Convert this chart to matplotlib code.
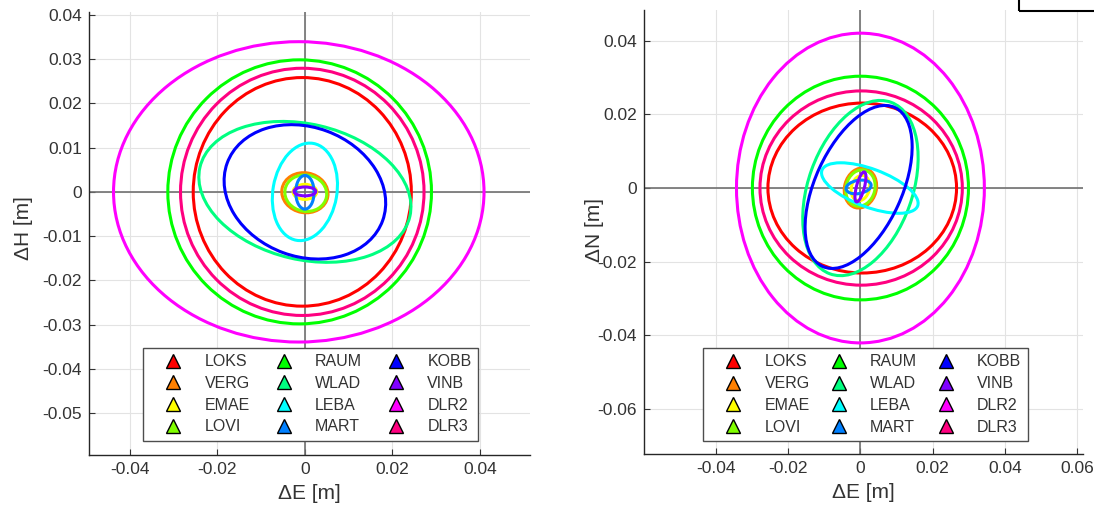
import matplotlib
matplotlib.use("Agg")
import matplotlib.pyplot as plt
from matplotlib.patches import Ellipse, Rectangle
from matplotlib.lines import Line2D

plt.rcParams['font.family'] = ['Liberation Sans', 'DejaVu Sans']
plt.rcParams['axes.unicode_minus'] = False

stations = ['LOKS', 'VERG', 'EMAE', 'LOVI', 'RAUM', 'WLAD',
            'LEBA', 'MART', 'KOBB', 'VINB', 'DLR2', 'DLR3']
colors = ['#ff0000', '#ff8000', '#ffff00', '#80ff00', '#00ff00', '#00ff80',
          '#00ffff', '#0080ff', '#0000ff', '#8000ff', '#ff00ff', '#ff0080']

# left panel: dE / dH error ellipses (center, semi-axes, rotation in deg)
eh_cx = [-0.0006, 0.0, 0.0, 0.0002, -0.0012, 0.0, 0.0, 0.0, 0.0, 0.0, -0.0014, -0.0006]
eh_cy = [0.0, -0.0002, 0.0, -0.0003, 0.0, 0.0, 0.0, -0.0001, 0.0, 0.0001, 0.0, 0.0]
eh_a = [0.0249, 0.0053, 0.0027, 0.0048, 0.0301, 0.0246, 0.0111, 0.0021, 0.0189, 0.0025, 0.0423, 0.0278]
eh_b = [0.0258, 0.0045, 0.0017, 0.0041, 0.0298, 0.0153, 0.0073, 0.0038, 0.0146, 0.0010, 0.0339, 0.0279]
eh_ang = [0, -10, 0, -10, 0, -13, 80, 0, -20, 0, 0, 0]

# right panel: dE / dN error ellipses
en_cx = [0.0005, 0.0, 0.0, 0.0, 0.0, 0.0, 0.0026, -0.0005, -0.0005, 0.0, 0.0, 0.0002]
en_cy = [0.0, 0.0, 0.0, 0.0, 0.0, 0.0, 0.0, 0.0003, 0.0003, 0.0003, 0.0, 0.0]
en_a = [0.0261, 0.0055, 0.0035, 0.0050, 0.0299, 0.0248, 0.0141, 0.0035, 0.0238, 0.0042, 0.0343, 0.0280]
en_b = [0.0231, 0.0044, 0.0025, 0.0040, 0.0304, 0.0144, 0.0052, 0.0018, 0.0120, 0.0011, 0.0421, 0.0264]
en_ang = [0, 75, 75, 75, 0, 70, -20, 10, 65, 75, 0, 0]

left_xticks = [-0.04, -0.02, 0, 0.02, 0.04]
left_xlabels = ['-0.04', '-0.02', '0', '0.02', '0.04']
left_yticks = [-0.05, -0.04, -0.03, -0.02, -0.01, 0, 0.01, 0.02, 0.03, 0.04]
left_ylabels = ['-0.05', '-0.04', '-0.03', '-0.02', '-0.01', '0', '0.01', '0.02', '0.03', '0.04']
right_xticks = [-0.04, -0.02, 0, 0.02, 0.04, 0.06]
right_xlabels = ['-0.04', '-0.02', '0', '0.02', '0.04', '0.06']
right_yticks = [-0.06, -0.04, -0.02, 0, 0.02, 0.04]
right_ylabels = ['-0.06', '-0.04', '-0.02', '0', '0.02', '0.04']

txt = '#333333'
W, H = 1094, 514
fig = plt.figure(figsize=(W / 100, H / 100), dpi=100)


def px_axes(x0, y0, x1, y1):
    return fig.add_axes([x0 / W, 1 - y1 / H, (x1 - x0) / W, (y1 - y0) / H])


def draw_panel(ax, cx, cy, a, b, ang, xlim, ylim, xt, xl, yt, yl, ylab, ylpos, leg_box):
    ax.set_xlim(xlim)
    ax.set_ylim(ylim)
    ax.set_xticks(xt)
    ax.set_xticklabels(xl)
    ax.set_yticks(yt)
    ax.set_yticklabels(yl)
    ax.grid(True, color='#e3e3e3', lw=0.8)
    ax.set_axisbelow(True)
    ax.axhline(0, color='#707070', lw=1.2, zorder=1)
    ax.axvline(0, color='#707070', lw=1.2, zorder=1)
    for s in ['top', 'right']:
        ax.spines[s].set_visible(False)
    for s in ['left', 'bottom']:
        ax.spines[s].set_color('#262626')
        ax.spines[s].set_linewidth(1.0)
    ax.tick_params(direction='in', length=4, width=0.8, colors=txt,
                   labelsize=12.5, pad=5)
    for i in range(len(stations)):
        e = Ellipse((cx[i], cy[i]), 2 * a[i], 2 * b[i], angle=ang[i],
                    fill=False, edgecolor=colors[i], lw=2.2, zorder=2 + i * 0.01)
        ax.add_patch(e)
    ax.set_xlabel('ΔE [m]', fontsize=15, color=txt, labelpad=5)
    ax.set_ylabel(ylab, fontsize=15, color=txt)
    ax.yaxis.set_label_coords(*ylpos)

    handles = [Line2D([], [], marker='^', ls='none', ms=10, markerfacecolor=c,
                      markeredgecolor='k', markeredgewidth=1.0) for c in colors]
    leg = ax.legend(handles, stations, ncol=3, loc='lower left',
                    bbox_to_anchor=leg_box, mode='expand', borderaxespad=0,
                    fontsize=11.5, handlelength=3.0, handletextpad=0.45,
                    labelspacing=0.42, borderpad=0.4, fancybox=False,
                    framealpha=1, edgecolor='#4d4d4d')
    leg.get_frame().set_linewidth(1.0)
    leg.set_zorder(10)
    for t in leg.get_texts():
        t.set_color(txt)


ax1 = px_axes(89, 12, 530, 455)
draw_panel(ax1, eh_cx, eh_cy, eh_a, eh_b, eh_ang,
           (-0.0493, 0.0514), (-0.0594, 0.0406),
           left_xticks, left_xlabels, left_yticks, left_ylabels,
           'ΔH [m]', (-0.127, 0.512), (0.1224, 0.032, 0.7596, 0.1))

ax2 = px_axes(644, 10, 1083, 454)
draw_panel(ax2, en_cx, en_cy, en_a, en_b, en_ang,
           (-0.0599, 0.0616), (-0.0723, 0.0484),
           right_xticks, right_xlabels, right_yticks, right_ylabels,
           'ΔN [m]', (-0.09, 0.505), (0.1344, 0.0293, 0.740, 0.1))

# cropped box in the top right corner
fig.patches.append(Rectangle((1019 / W, 1 - 11 / H), 0.2, 0.1,
                             transform=fig.transFigure, fill=False,
                             edgecolor='k', lw=1.5))

fig.savefig('out.png', dpi=100)
